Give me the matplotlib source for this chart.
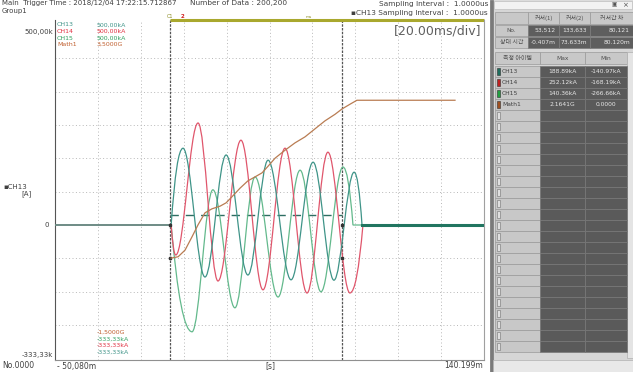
import numpy as np
import matplotlib
matplotlib.use("Agg")
import matplotlib.pyplot as plt
from matplotlib.path import Path
from matplotlib.patches import PathPatch, Rectangle

plt.rcParams['font.family'] = ['DejaVu Sans', 'Noto Sans CJK KR']

T_START = -50.080
T_END = 140.199
CURSOR_1 = -0.407
CURSOR_2 = 73.633
CURSOR_LEVEL = 25.0

ch13_t = [T_START, 0.0, 5.1, 14.6, 23.7, 33.1, 41.8, 51.7, 61.2, 70.2, 78.9, 82.3, T_END]
ch13_v = [0, 0, 192, -130, 175, -125, 162, -137, 157, -138, 132, 0, 0]

ch14_t = [T_START, 0.0, 2.0, 11.6, 20.2, 30.1, 39.6, 49.1, 58.6, 67.6, 77.1, 82.7, T_END]
ch14_v = [0, 0, -75, 255, -140, 212, -162, 192, -170, 182, -170, 0, 0]

ch15_t = [T_START, 0.0, 9.0, 18.0, 27.5, 36.2, 46.1, 55.6, 64.6, 74.1, 78.4, T_END]
ch15_v = [0, 0, -267, 88, -207, 120, -180, 137, -167, 145, 0, 0]

math1_t = [0.0, 3.0, 6.0, 9.0, 11.6, 14.6, 17.6, 21.1, 23.7, 26.2, 29.7, 33.1, 36.2,
           39.2, 41.8, 44.8, 49.1, 53.4, 57.7, 62.0, 66.3, 70.7, 73.7, 77.1, 80.1, 122.4]
math1_v = [0.0, 0.02, 0.12, 0.32, 0.50, 0.68, 0.74, 0.78, 0.83, 0.92, 1.05, 1.16, 1.22,
           1.28, 1.38, 1.50, 1.62, 1.73, 1.82, 1.94, 2.06, 2.16, 2.24, 2.31, 2.37, 2.37]

# Tableau de droite
items = ["CH13", "CH14", "CH15", "Math1"]
max_vals = ["188.89kA", "252.12kA", "140.36kA", "2.1641G"]
min_vals = ["-140.97kA", "-168.19kA", "-266.66kA", "0.0000"]
cursor_cols = ["커서(1)", "커서(2)", "커서간 차"]
cursor_no = ["53,512", "133,633", "80,121"]
cursor_time = ["-0.407m", "73.633m", "80.120m"]

# Couleurs
c13 = "#3f9488"
c14 = "#e0566c"
c15 = "#63b98c"
cmath = "#b97c52"
swatch = ["#1d6e5e", "#c02020", "#20a040", "#a05020"]

W, H = 633, 372
fig = plt.figure(figsize=(W / 100, H / 100), dpi=100)


def fx(x):
    return x / W


def fy(y):
    return 1 - y / H


def wave_path(t, v, k=0.36):
    verts = [(t[0], v[0])]
    codes = [Path.MOVETO]
    for i in range(1, len(t)):
        t0, v0, t1, v1 = t[i - 1], v[i - 1], t[i], v[i]
        dt = t1 - t0
        if v0 == 0 and v1 == 0:
            verts.append((t1, v1))
            codes.append(Path.LINETO)
        elif v0 == 0:
            verts += [(t1 - 0.55 * dt, v1), (t1, v1)]
            codes += [Path.CURVE3] * 2
        elif v1 == 0:
            verts += [(t0 + 0.55 * dt, v0), (t1, v1)]
            codes += [Path.CURVE3] * 2
        else:
            verts += [(t0 + k * dt, v0), (t1 - k * dt, v1), (t1, v1)]
            codes += [Path.CURVE4] * 3
    return Path(verts, codes)


# Zone du graphique principal
ax = fig.add_axes([fx(55), fy(360), fx(484 - 55), fy(20) - fy(360)])
x_lim = (T_START, 134.9)
ax.set_xlim(*x_lim)
ax.set_ylim(-337.5, 512.5)
ax.set_xticks([])
ax.set_yticks([])
ax.spines["top"].set_visible(False)
ax.spines["left"].set_color("#555555")
ax.spines["bottom"].set_color("#909090")
ax.spines["right"].set_color("#a0a0a0")

# grille pointillée
for gx in np.linspace(x_lim[0], x_lim[1], 11)[1:-1]:
    ax.axvline(gx, color="#b8b8b8", lw=0.7, ls=(0, (1, 2.5)), zorder=0)
for gy in np.arange(-250, 450, 500 / 6):
    if abs(gy) > 1:
        ax.axhline(gy, color="#b8b8b8", lw=0.7, ls=(0, (1, 2.5)), zorder=0)

# curseurs
for cx in [CURSOR_1, CURSOR_2]:
    ax.axvline(cx, color="#555555", lw=0.9, ls=(0, (2, 1)), zorder=1)
ax.hlines(CURSOR_LEVEL, CURSOR_1, CURSOR_2, color="#2e6e62", lw=1.0, ls=(0, (6, 5)), zorder=2)

# courbes
ax.add_patch(PathPatch(wave_path(ch15_t, ch15_v), fill=False, ec=c15, lw=0.9, zorder=3))
ax.add_patch(PathPatch(wave_path(ch14_t, ch14_v), fill=False, ec=c14, lw=0.9, zorder=3))
ax.add_patch(PathPatch(wave_path(ch13_t, ch13_v), fill=False, ec=c13, lw=0.9, zorder=4))
ax.plot([ch13_t[-2], ch13_t[-1]], [0, 0], color="#217560", lw=2.2, zorder=5)

# Math1 sur sa propre échelle
ax2 = ax.twinx()
ax2.set_ylim(-1.53, 3.575)
ax2.set_yticks([])
for s in ax2.spines.values():
    s.set_visible(False)
ax2.plot(math1_t, math1_v, color=cmath, lw=0.9, zorder=3)

# marqueurs des curseurs
m_math = (0 - (-1.53)) / (3.575 + 1.53) * 850 - 337.5
ax.plot([CURSOR_1, CURSOR_1, CURSOR_2, CURSOR_2], [0, m_math, 0, m_math], "s",
        color="#333333", ms=2, zorder=6)

# barre de plage en haut
ax.plot([CURSOR_1, x_lim[1]], [1, 1], transform=ax.get_xaxis_transform(),
        color="#a9a82e", lw=2.2, clip_on=False, solid_capstyle="butt")
fig.text(fx(167), fy(16), "C1", fontsize=3.5, color="#8a8a20", va="center")
fig.text(fx(181), fy(16), "2", fontsize=4, color="#d02020", va="center", weight="bold")
fig.text(fx(306), fy(17), "ms", fontsize=3, color="#8a8a20", va="center")

# entête
hc = "#404040"
fig.text(fx(2), fy(3.5), "Main  Trigger Time : 2018/12/04 17:22:15.712867", fontsize=5, color=hc, va="center")
fig.text(fx(2), fy(11), "Group1", fontsize=5, color=hc, va="center")
fig.text(fx(190), fy(3.5), "Number of Data : 200,200", fontsize=5.3, color=hc, va="center")
fig.text(fx(488), fy(4), "Sampling Interval :  1.0000us", fontsize=5.3, color=hc, va="center", ha="right")
fig.text(fx(488), fy(13), "\u25aaCH13 Sampling Interval :  1.0000us", fontsize=5.3, color=hc, va="center", ha="right")
fig.text(fx(481), fy(31), "[20.00ms/div]", fontsize=9, color="#606060", va="center", ha="right")

# légende intérieure
leg_cols = [c13, "#e03040", "#30a060", "#c06030"]
top_scale = ["500,00kA", "500,00kA", "500,00kA", "3,5000G"]
bot_scale = ["-333,33kA", "-333,33kA", "-333,33kA", "-1,5000G"]
for i, name in enumerate(items):
    y = 25 + i * 6.5
    fig.text(fx(57), fy(y), name, fontsize=4.5, color=leg_cols[i], va="center")
    fig.text(fx(97), fy(y), top_scale[i], fontsize=4.5, color=leg_cols[i], va="center")
    yb = 352 - i * 6.5
    fig.text(fx(97), fy(yb), bot_scale[i], fontsize=4.5, color=leg_cols[i], va="center")

# étiquettes autour
fig.text(fx(53), fy(32), "500,00k", fontsize=5, color=hc, va="center", ha="right")
fig.text(fx(53), fy(355), "-333,33k", fontsize=5, color=hc, va="center", ha="right")
fig.text(fx(49), fy(225), "0", fontsize=5, color=hc, va="center", ha="right")
fig.text(fx(3), fy(187), "\u25aaCH13", fontsize=5, color=hc, va="center")
fig.text(fx(21), fy(194), "[A]", fontsize=5, color=hc, va="center")
fig.text(fx(2), fy(366), "No.0000", fontsize=5.5, color=hc, va="center")
fig.text(fx(57), fy(366), "- 50,080m", fontsize=5.5, color=hc, va="center")
fig.text(fx(270), fy(366), "[s]", fontsize=5.5, color=hc, va="center", ha="center")
fig.text(fx(483), fy(366), "140.199m", fontsize=5.5, color=hc, va="center", ha="right")

# Panneau de droite
pn = fig.add_axes([fx(490), 0, fx(W - 490), 1])
pn.set_xlim(490, W)
pn.set_ylim(H, 0)
pn.axis("off")


def cell(x0, y0, x1, y1, fc, ec="#9a9a9a"):
    pn.add_patch(Rectangle((x0, y0), x1 - x0, y1 - y0, fc=fc, ec=ec, lw=0.5))


pfont = ['Noto Sans CJK KR', 'DejaVu Sans']
cell(490, 0, W, H, "#d6d6d6", "#d6d6d6")
cell(490, 0, 493, H, "#7a7a7a", "#7a7a7a")
cell(494, 1, W - 1, 9, "#f2f2f2", "#c0c0c0")
pn.text(614, 5, "\u25a3", fontsize=4, color="#505050", va="center", ha="center")
pn.text(625, 5, "\u00d7", fontsize=5, color="#505050", va="center", ha="center")

# tableau des curseurs
xs = [495, 528, 559, 590, W]
cell(xs[0], 12, xs[1], 24, "#c8c8c8")
for j, lab in enumerate(cursor_cols):
    cell(xs[j + 1], 12, xs[j + 2], 24, "#c8c8c8")
    pn.text((xs[j + 1] + xs[j + 2]) / 2, 18, lab, fontsize=4.3, color="#505050",
            va="center", ha="center", family=pfont)
rows = [("No.", cursor_no, 25, 36), ("상대 시간", cursor_time, 37, 48)]
for lab, vals, y0, y1 in rows:
    cell(xs[0], y0, xs[1], y1, "#c8c8c8")
    pn.text((xs[0] + xs[1]) / 2, (y0 + y1) / 2, lab, fontsize=4.3, color="#505050",
            va="center", ha="center", family=pfont)
    for j, v in enumerate(vals):
        cell(xs[j + 1], y0, xs[j + 2], y1, "#5e5e5e", "#7c7c7c")
        pn.text(xs[j + 2] - 3, (y0 + y1) / 2, v, fontsize=4.3, color="#e8e8e8",
                va="center", ha="right")

# tableau des mesures
xm = [495, 540, 585, 627]
cell(xm[0], 52, xm[1], 64, "#c8c8c8")
pn.text((xm[0] + xm[1]) / 2, 58, "측정 아이템", fontsize=4.3, color="#505050",
        va="center", ha="center", family=pfont)
for j, lab in enumerate(["Max", "Min"]):
    cell(xm[j + 1], 52, xm[j + 2], 64, "#c8c8c8")
    pn.text((xm[j + 1] + xm[j + 2]) / 2, 58, lab, fontsize=4.3, color="#505050",
            va="center", ha="center")
cell(627, 52, W, 358, "#e4e4e4", "#b0b0b0")
cell(493, 360, W, H, "#e8e8e8", "#b0b0b0")

row_h = 11
n_rows = int((358 - 66) // row_h)
for r in range(n_rows):
    y0 = 66 + r * row_h
    y1 = y0 + row_h
    cell(xm[0], y0, xm[1], y1, "#c8c8c8")
    cell(xm[1], y0, xm[2], y1, "#5a5a5a", "#787878")
    cell(xm[2], y0, xm[3], y1, "#5a5a5a", "#787878")
    if r < len(items):
        pn.add_patch(Rectangle((496.5, y0 + 2), 3, row_h - 4, fc=swatch[r], ec="#303030", lw=0.4))
        pn.text(502, (y0 + y1) / 2, items[r], fontsize=4.3, color="#404040", va="center")
        pn.text((xm[1] + xm[2]) / 2, (y0 + y1) / 2, max_vals[r], fontsize=4.3,
                color="#e8e8e8", va="center", ha="center")
        pn.text((xm[2] + xm[3]) / 2, (y0 + y1) / 2, min_vals[r], fontsize=4.3,
                color="#e8e8e8", va="center", ha="center")
    else:
        pn.add_patch(Rectangle((496.5, y0 + 2), 3, row_h - 4, fc="#e0e0e0", ec="#707070", lw=0.4))

fig.savefig("out.png", dpi=100)
